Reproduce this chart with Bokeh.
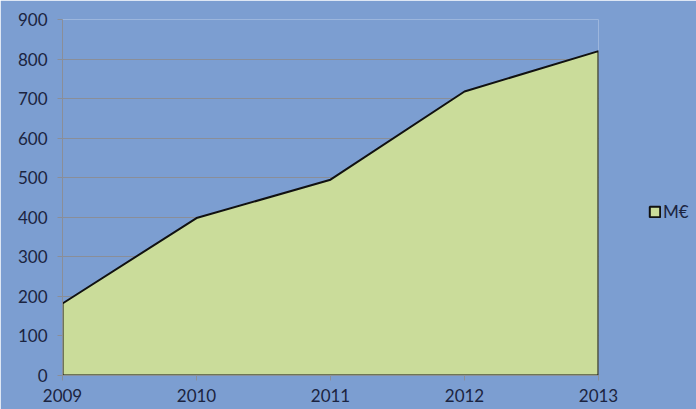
from bokeh.plotting import figure
from bokeh.models import FixedTicker, Legend, LegendItem, Range1d
from bokeh.embed import file_html
from bokeh.resources import INLINE

years = [2009, 2010, 2011, 2012, 2013]
values = [182, 398, 495, 718, 820]
y_ticks = [0, 100, 200, 300, 400, 500, 600, 700, 800, 900]
series_name = "M€"

BG = "#7c9ed1"
TEXT = "#1b2440"
FONT = "Lato"

p = figure(frame_width=536, frame_height=356, output_backend="svg", toolbar_location=None,
           x_range=Range1d(years[0], years[-1]), y_range=Range1d(0, 900),
           min_border_left=62, min_border_right=98, min_border_top=19, min_border_bottom=34)
p.background_fill_color = BG
p.border_fill_color = BG
p.outline_line_color = None

xs = [years[0]] + years + [years[-1]]
ys = [0] + values + [0]
area = p.patch(xs, ys, fill_color="#cadc9a", line_color="#111111", line_width=2)

p.xgrid.grid_line_color = None
p.ygrid.grid_line_color = "#8a8e98"
p.ygrid.grid_line_width = 1

p.yaxis.ticker = FixedTicker(ticks=y_ticks)
p.xaxis.ticker = FixedTicker(ticks=years)
for ax in (p.xaxis, p.yaxis):
    ax.axis_line_color = "#8a8e98"
    ax.major_tick_line_color = "#8a8e98"
    ax.major_tick_out = 5
    ax.major_tick_in = 0
    ax.minor_tick_line_color = None
    ax.major_label_text_font = FONT
    ax.major_label_text_font_size = "17px"
    ax.major_label_text_color = TEXT
p.yaxis.major_label_standoff = 10
p.xaxis.major_label_standoff = 8

legend = Legend(items=[LegendItem(label=series_name, renderers=[area])],
                location=(50, 153), background_fill_alpha=0, border_line_color=None,
                label_text_font=FONT, label_text_font_size="17px", label_text_color=TEXT,
                glyph_width=13, glyph_height=13, label_standoff=2, padding=0, margin=0)
p.add_layout(legend, "right")

html = file_html(p, INLINE)
html = html.replace("<body>", '<body style="background:%s">' % BG, 1)
open("out.html", "w").write(html)
